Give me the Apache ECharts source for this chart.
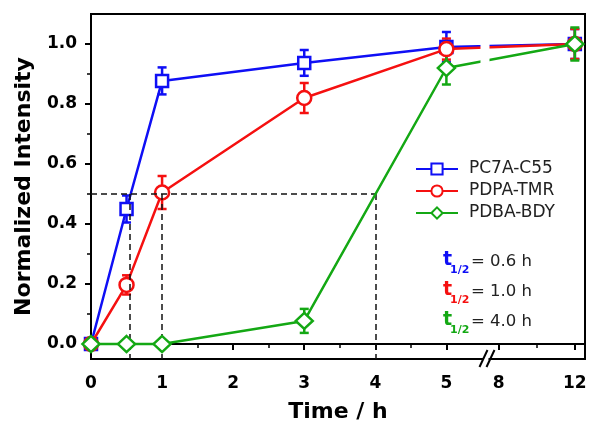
<!DOCTYPE html>
<html><head><meta charset="utf-8">
<script src="https://cdn.jsdelivr.net/npm/echarts@6/dist/echarts.min.js"></script>
<style>html,body{margin:0;padding:0;background:#fff}#c{width:600px;height:429px}</style>
</head><body><div id="c"></div>
<script>
// ---- data ----
const seriesNames = ['PC7A-C55', 'PDPA-TMR', 'PDBA-BDY'];
const times = [0, 0.5, 1, 3, 5, 12];
const pc7a = [0, 0.45, 0.877, 0.937, 0.99, 1.0];
const pc7aErr = [0, 0.045, 0.045, 0.043, 0.05, 0.05];
const pdpa = [0, 0.197, 0.505, 0.82, 0.983, 1.0];
const pdpaErr = [0, 0.032, 0.055, 0.05, 0.035, 0.05];
const pdba = [0, 0, 0, 0.077, 0.92, 1.0];
const pdbaErr = [0, 0, 0, 0.04, 0.055, 0.055];
const xMajorTicks = [0, 1, 2, 3, 4, 5, 8, 12];
const xMinorTicks = [0.5, 1.5, 2.5, 3.5, 4.5, 10];
const yMajorTicks = [0, 0.2, 0.4, 0.6, 0.8, 1.0];
const yMinorTicks = [0.1, 0.3, 0.5, 0.7, 0.9];
const halfLevel = 0.5;
const halfTimes = [0.55, 1, 4];
const halfLabels = ['0.6', '1.0', '4.0'];
const colors = ['#0f0ff5', '#f51010', '#14a814'];

// broken time axis: 0-5 h linear, then compressed 8-12 h segment
function xMap(t) { return t <= 5 ? t : 5.737 + (t - 8) * 0.2675; }
const xMax = 6.95, breakPos = 5.55;
const yMin = -0.05, yMax = 1.1;

const values = [pc7a, pdpa, pdba];
const errs = [pc7aErr, pdpaErr, pdbaErr];
const symbols = ['rect', 'circle', 'diamond'];
const symbolSizes = [12, 14, [17, 16]];

const fontBold = {fontFamily: 'DejaVu Sans', fontWeight: 'bold', color: '#000'};
const majorX = xMajorTicks.map(xMap);

const series = [];
values.forEach((vals, i) => {
  const data = times.map((t, k) => [xMap(t), vals[k], errs[i][k]]);
  series.push({
    type: 'custom', name: seriesNames[i] + ' err', z: 1, silent: true,
    renderItem: function (params, api) {
      const x = api.value(0), y = api.value(1), e = api.value(2);
      if (!e) return null;
      const top = api.coord([x, y + e]);
      const bot = api.coord([x, y - e]);
      const st = {stroke: colors[i], lineWidth: 2.5};
      return {type: 'group', children: [
        {type: 'line', shape: {x1: top[0], y1: top[1], x2: bot[0], y2: bot[1]}, style: st},
        {type: 'line', shape: {x1: top[0] - 4.5, y1: top[1], x2: top[0] + 4.5, y2: top[1]}, style: st},
        {type: 'line', shape: {x1: bot[0] - 4.5, y1: bot[1], x2: bot[0] + 4.5, y2: bot[1]}, style: st}
      ]};
    },
    data: data
  });
});
values.forEach((vals, i) => {
  series.push({
    type: 'line', name: seriesNames[i], z: 3 + i,
    data: times.map((t, k) => [xMap(t), vals[k]]),
    symbol: symbols[i], symbolSize: symbolSizes[i], showAllSymbol: true,
    lineStyle: {color: colors[i], width: 2.5},
    itemStyle: {color: '#fff', borderColor: colors[i], borderWidth: 2.5},
    emphasis: {disabled: true},
    markLine: i === 0 ? {
      silent: true, symbol: 'none', label: {show: false},
      lineStyle: {color: '#111', type: [6, 4], width: 1.5},
      data: [[{coord: [0, halfLevel]}, {coord: [xMap(halfTimes[2]), halfLevel]}]]
        .concat(halfTimes.map(h => [{coord: [xMap(h), halfLevel]}, {coord: [xMap(h), yMin]}]))
    } : undefined
  });
});

const chart = echarts.init(document.getElementById('c'), null, {renderer: 'canvas'});
const option = {
  animation: false,
  backgroundColor: '#fff',
  grid: {left: 91, top: 14, right: 15, bottom: 70, show: true, borderColor: '#000', borderWidth: 2, backgroundColor: 'transparent'},
  legend: {
    data: seriesNames, orient: 'vertical', left: 410, top: 154,
    itemWidth: 42, itemHeight: 14, itemGap: 2,
    textStyle: {fontFamily: 'DejaVu Sans', fontSize: 17, color: '#222', padding: [0, 0, 0, 6], lineHeight: 20}
  },
  xAxis: [{
    type: 'value', min: 0, max: xMax,
    name: 'Time / h', nameLocation: 'middle', nameGap: 42,
    nameTextStyle: Object.assign({fontSize: 22}, fontBold),
    axisLine: {lineStyle: {color: '#000', width: 2}},
    axisTick: {customValues: majorX, length: 6, lineStyle: {color: '#000', width: 2}},
    axisLabel: Object.assign({customValues: majorX, fontSize: 17, margin: 16,
      formatter: v => {
        let best = 0;
        majorX.forEach((m, k) => { if (Math.abs(m - v) < Math.abs(majorX[best] - v)) best = k; });
        return String(xMajorTicks[best]);
      }}, fontBold),
    splitLine: {show: false}
  }, {
    type: 'value', min: 0, max: xMax, position: 'bottom',
    axisLine: {show: false},
    axisTick: {customValues: xMinorTicks.map(xMap), length: 4, lineStyle: {color: '#000', width: 1.5}},
    axisLabel: {show: false}, splitLine: {show: false}
  }],
  yAxis: [{
    type: 'value', min: yMin, max: yMax,
    name: 'Normalized Intensity', nameLocation: 'middle', nameGap: 56,
    nameTextStyle: Object.assign({fontSize: 22}, fontBold),
    axisLine: {lineStyle: {color: '#000', width: 2}},
    axisTick: {customValues: yMajorTicks, length: 6, lineStyle: {color: '#000', width: 2}},
    axisLabel: Object.assign({customValues: yMajorTicks, fontSize: 17, margin: 14,
      formatter: v => v.toFixed(1)}, fontBold),
    splitLine: {show: false}
  }, {
    type: 'value', min: yMin, max: yMax, position: 'left',
    axisLine: {show: false},
    axisTick: {customValues: yMinorTicks, length: 4, lineStyle: {color: '#000', width: 1.5}},
    axisLabel: {show: false}, splitLine: {show: false}
  }],
  series: series
};
chart.setOption(option);

// break marks (axis and data-line gap) and half-life annotations
const bp = chart.convertToPixel({xAxisIndex: 0, yAxisIndex: 0}, [breakPos, yMin]);
const tp = chart.convertToPixel({xAxisIndex: 0, yAxisIndex: 0}, [breakPos, yMax]);
const gp = chart.convertToPixel({xAxisIndex: 0, yAxisIndex: 0}, [breakPos, 0.8]);
const bx = bp[0], by = bp[1];
const graphics = [
  {type: 'rect', z: 100, shape: {x: bx - 5, y: tp[1] + 2, width: 9, height: gp[1] - tp[1] - 2}, style: {fill: '#fff'}},
  {type: 'rect', z: 100, shape: {x: bx - 2, y: by - 3, width: 5, height: 6}, style: {fill: '#fff'}},
  {type: 'line', z: 101, shape: {x1: bx - 6, y1: by + 8, x2: bx + 2, y2: by - 9}, style: {stroke: '#000', lineWidth: 2}},
  {type: 'line', z: 101, shape: {x1: bx + 1, y1: by + 8, x2: bx + 9, y2: by - 9}, style: {stroke: '#000', lineWidth: 2}}
];
const rowY = [263, 293, 323];
halfLabels.forEach((lab, i) => {
  graphics.push({type: 'text', z: 101, left: 443, top: rowY[i] - 12,
    style: {text: 't', fill: colors[i], font: 'bold 19px "DejaVu Sans"'}});
  graphics.push({type: 'text', z: 101, left: 450, top: rowY[i] + 2,
    style: {text: '1/2', fill: colors[i], font: 'bold 11px "DejaVu Sans"'}});
  graphics.push({type: 'text', z: 101, left: 471, top: rowY[i] - 10,
    style: {text: '= ' + lab + ' h', fill: '#222', font: '16.5px "DejaVu Sans"'}});
});
chart.setOption({graphic: graphics});
</script></body></html>
